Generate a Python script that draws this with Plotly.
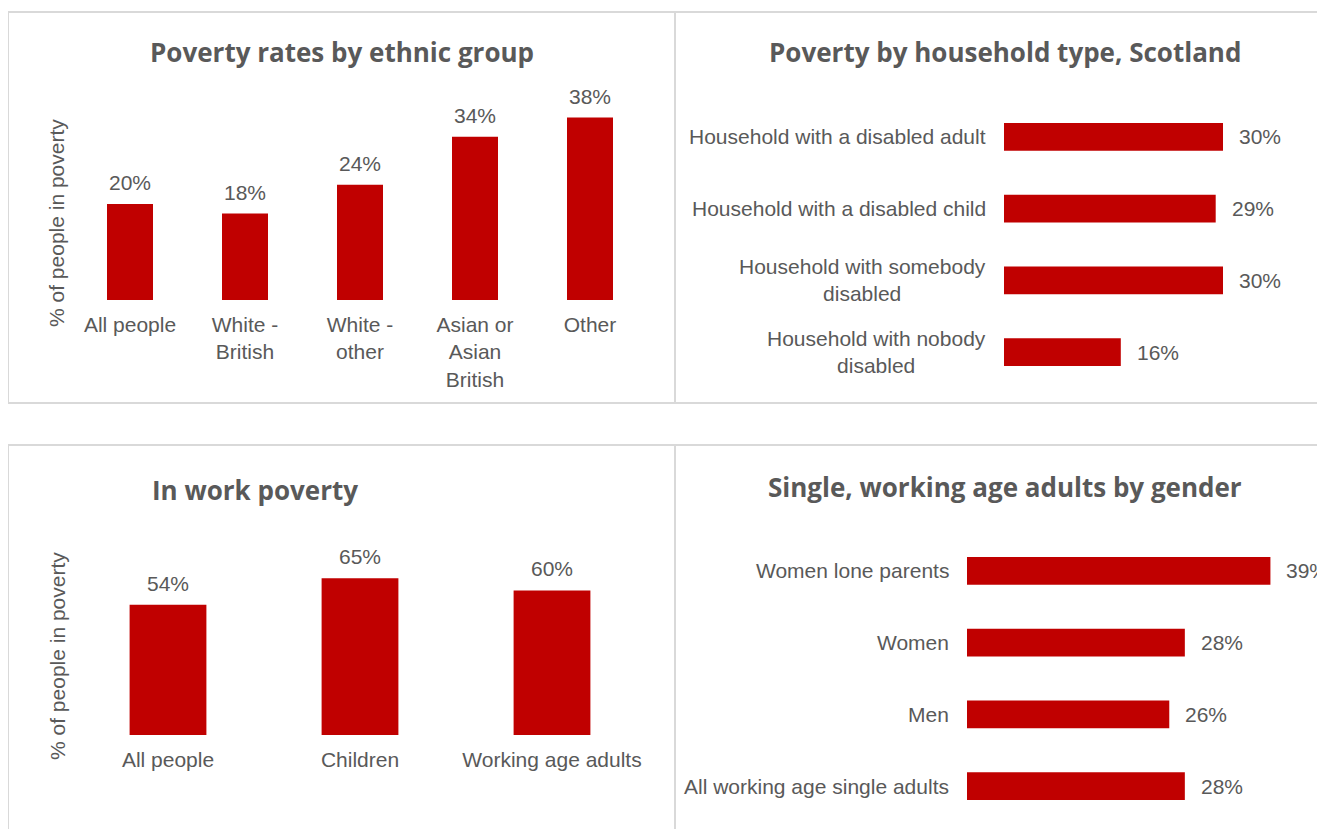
import plotly.graph_objects as go

# The page puts the figure 8px in from the top-left corner of the window;
# positions below are window pixels, shifted by that offset.
OFF = 8
W, H = 1325, 829

# ---------------- data ----------------
ethnic_groups = ["All people", "White - British", "White - other", "Asian or Asian British", "Other"]
ethnic_ticks = ["All people", "White -<br>British", "White -<br>other", "Asian or<br>Asian<br>British", "Other"]
ethnic_values = [20, 18, 24, 34, 38]

household_types = ["Household with a disabled adult", "Household with a disabled child",
                   "Household with somebody disabled", "Household with nobody disabled"]
household_ticks = ["Household with a disabled adult", "Household with a disabled child",
                   "Household with somebody<br>disabled", "Household with nobody<br>disabled"]
household_values = [30, 29, 30, 16]

inwork_groups = ["All people", "Children", "Working age adults"]
inwork_values = [54, 65, 60]

gender_groups = ["Women lone parents", "Women", "Men", "All working age single adults"]
gender_values = [39, 28, 26, 28]

titles = ["Poverty rates by ethnic group", "Poverty by household type, Scotland",
          "In work poverty", "Single, working age adults by gender"]
y_title = "% of people in poverty"

# ---------------- style ----------------
RED = "#C00000"
GREY = "#595959"
BORDER = "#D9D9D9"
FONT = "Liberation Sans, Arial, sans-serif"
TFONT = "Open Sans, Lato, sans-serif"
FS = 21


def px(x):
    return (x - OFF) / W


def py(y):
    return 1 - (y - OFF) / H


fig = go.Figure()

fig.add_trace(go.Bar(x=ethnic_groups, y=ethnic_values, marker_color=RED, width=0.4,
                     xaxis="x", yaxis="y"))
fig.add_trace(go.Bar(y=household_types, x=household_values, orientation="h", marker_color=RED,
                     width=0.39, xaxis="x2", yaxis="y2"))
fig.add_trace(go.Bar(x=inwork_groups, y=inwork_values, marker_color=RED, width=0.4,
                     xaxis="x3", yaxis="y3"))
fig.add_trace(go.Bar(y=gender_groups, x=gender_values, orientation="h", marker_color=RED,
                     width=0.39, xaxis="x4", yaxis="y4"))

lab_font = dict(size=FS, color=GREY, family=FONT)
annotations = []
for c, v in zip(ethnic_groups, ethnic_values):
    annotations.append(dict(x=c, y=v, xref="x", yref="y", text=f"{v}%", showarrow=False,
                            yanchor="bottom", yshift=8, font=lab_font))
for c, v in zip(inwork_groups, inwork_values):
    annotations.append(dict(x=c, y=v, xref="x3", yref="y3", text=f"{v}%", showarrow=False,
                            yanchor="bottom", yshift=8, font=lab_font))
for c, v in zip(household_types, household_values):
    annotations.append(dict(x=v, y=c, xref="x2", yref="y2", text=f"{v}%", showarrow=False,
                            xanchor="left", xshift=14, font=lab_font))
for c, v in zip(gender_groups, gender_values):
    annotations.append(dict(x=v, y=c, xref="x4", yref="y4", text=f"{v}%", showarrow=False,
                            xanchor="left", xshift=14, font=lab_font))
for c, t in zip(household_types, household_ticks):
    annotations.append(dict(x=0, y=c, xref="x2 domain", yref="y2", text=t, showarrow=False,
                            xanchor="right", align="center", xshift=-16, font=lab_font))
for c in gender_groups:
    annotations.append(dict(x=0, y=c, xref="x4 domain", yref="y4", text=c, showarrow=False,
                            xanchor="right", align="center", xshift=-16, font=lab_font))
for t, (cx, cy) in zip(titles, [(342, 52), (1005, 52), (255, 490), (1005, 487)]):
    annotations.append(dict(x=px(cx), y=py(cy), xref="paper", yref="paper", text=f"<b>{t}</b>",
                            showarrow=False, xanchor="center", yanchor="middle",
                            font=dict(size=26, color=GREY, family=TFONT)))
for cy in [223, 656]:
    annotations.append(dict(x=px(57), y=py(cy), xref="paper", yref="paper", text=y_title,
                            showarrow=False, textangle=-90, xanchor="center", yanchor="middle",
                            font=lab_font))

shapes = []
for (x0, y0, x1, y1) in [(8, 12, 675, 403), (675, 12, 1345, 403),
                         (8, 445, 675, 850), (675, 445, 1345, 850)]:
    shapes.append(dict(type="rect", xref="paper", yref="paper", x0=px(x0), x1=px(x1),
                       y0=py(y1), y1=py(y0), line=dict(color=BORDER, width=2), layer="below"))

vx = dict(showgrid=False, zeroline=False, showline=False, ticks="", fixedrange=True,
          tickfont=lab_font, ticklabelstandoff=10)
vy = dict(showgrid=False, zeroline=False, showline=False, showticklabels=False, fixedrange=True)
hx = dict(showgrid=False, zeroline=False, showline=False, showticklabels=False, fixedrange=True)
hy = dict(showgrid=False, zeroline=False, showline=False, showticklabels=False, fixedrange=True,
          autorange="reversed")

fig.update_layout(
    width=W, height=H, margin=dict(l=0, r=0, t=0, b=0),
    paper_bgcolor="white", plot_bgcolor="rgba(0,0,0,0)",
    showlegend=False,
    font=dict(family=FONT, color=GREY, size=FS),
    xaxis=dict(vx, domain=[px(72.5), px(647.5)], tickvals=ethnic_groups, ticktext=ethnic_ticks,
               anchor="y"),
    yaxis=dict(vy, domain=[py(300), py(108)], range=[0, 40], anchor="x"),
    xaxis2=dict(hx, domain=[px(1004), px(1004 + 7.3 * 35)], range=[0, 35], anchor="y2"),
    yaxis2=dict(hy, domain=[py(388), py(101)], anchor="x2"),
    xaxis3=dict(vx, domain=[px(72), px(648)], anchor="y3"),
    yaxis3=dict(vy, domain=[py(735), py(735 - 2.41 * 70)], range=[0, 70], anchor="x3"),
    xaxis4=dict(hx, domain=[px(967), min(1.0, px(967 + 7.78 * 40))], range=[0, 40], anchor="y4"),
    yaxis4=dict(hy, domain=[py(822), py(535)], anchor="x4"),
    annotations=annotations, shapes=shapes,
)
for tr in fig.data:
    tr.marker.line.width = 0
    tr.cliponaxis = False
    tr.hoverinfo = "x+y"

fig.write_html("out.html")
